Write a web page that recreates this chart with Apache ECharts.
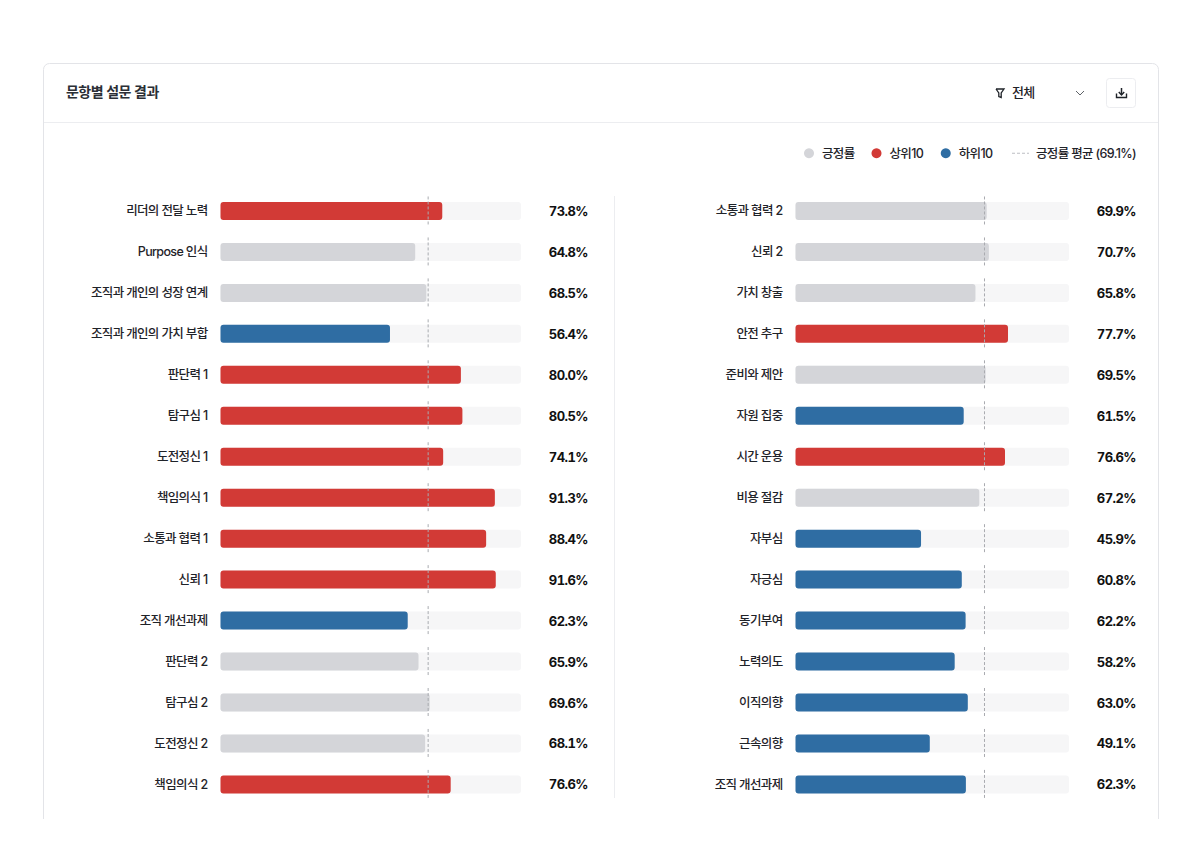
<!DOCTYPE html>
<html><head><meta charset="utf-8">
<script src="https://cdn.jsdelivr.net/npm/echarts@6/dist/echarts.min.js"></script>
<style>html,body{margin:0;background:#fff}#c{width:1200px;height:856px}#c text{letter-spacing:-.65px}#c text[style*="700"]{letter-spacing:-.55px;font-variant-numeric:tabular-nums!important;font-feature-settings:'tnum'!important}</style>
</head><body><div id="c"></div>
<script>
const namesLeft=['리더의 전달 노력','Purpose 인식','조직과 개인의 성장 연계','조직과 개인의 가치 부합','판단력 1','탐구심 1','도전정신 1','책임의식 1','소통과 협력 1','신뢰 1','조직 개선과제','판단력 2','탐구심 2','도전정신 2','책임의식 2'];
const valuesLeft=[73.8,64.8,68.5,56.4,80.0,80.5,74.1,91.3,88.4,91.6,62.3,65.9,69.6,68.1,76.6];
const groupsLeft=['t','n','n','b','t','t','t','t','t','t','b','n','n','n','t'];
const namesRight=['소통과 협력 2','신뢰 2','가치 창출','안전 추구','준비와 제안','자원 집중','시간 운용','비용 절감','자부심','자긍심','동기부여','노력의도','이직의향','근속의향','조직 개선과제'];
const valuesRight=[69.9,70.7,65.8,77.7,69.5,61.5,76.6,67.2,45.9,60.8,62.2,58.2,63.0,49.1,62.3];
const groupsRight=['n','n','n','t','n','b','t','n','b','b','b','b','b','b','b'];
const meanValue=69.1;
const legendNames={n:'긍정률',t:'상위10',b:'하위10',m:'긍정률 평균 (69.1%)'};
const colors={n:'#D4D5D9',t:'#D23A36',b:'#2F6DA3'};
const FONT="Inter, 'Noto Sans CJK KR', sans-serif";
const TEXT='#1f2329';

function panel(idx,names,values,groups){
  const yA={type:'category',gridIndex:idx,inverse:true,axisLine:{show:false},axisTick:{show:false}};
  const yAxes=[
    {...yA,data:names,position:'left',axisLabel:{interval:0,margin:13,padding:[3,0,0,0],fontFamily:FONT,fontSize:12.5,fontWeight:500,color:TEXT}},
    {...yA,data:values.map(v=>v.toFixed(1)+'%'),position:'right',axisLabel:{interval:0,margin:67,align:'right',fontFamily:FONT,fontSize:13,fontWeight:700,color:'#111'}}
  ];
  const xAxis={type:'value',gridIndex:idx,min:0,max:100,show:false};
  const yi=idx*2;
  const series=['n','t','b'].map((g,k)=>({
    type:'bar',name:legendNames[g],xAxisIndex:idx,yAxisIndex:yi,stack:'s'+idx,barWidth:18,
    showBackground:k===0,backgroundStyle:{color:'#F6F6F7',borderRadius:3},
    itemStyle:{color:colors[g],borderRadius:3},
    data:values.map((v,i)=>groups[i]===g?v:null),z:2
  }));
  series.push({
    type:'custom',name:legendNames.m,xAxisIndex:idx,yAxisIndex:yi,z:5,silent:true,
    data:names.map((_,i)=>[meanValue,i]),encode:{x:0,y:1},
    itemStyle:{color:'#A9ABB0'},
    renderItem(p,api){
      const c=api.coord([api.value(0),api.value(1)]);
      return {type:'line',shape:{x1:c[0],y1:c[1]-14.5,x2:c[0],y2:c[1]+14.5},
        style:{stroke:'#A9ABB0',lineWidth:1,lineDash:[3,2]}};
    }
  });
  return {yAxes,xAxis,series};
}
const L=panel(0,namesLeft,valuesLeft,groupsLeft), R=panel(1,namesRight,valuesRight,groupsRight);
const chart=echarts.init(document.getElementById('c'),null,{renderer:'svg',width:1200,height:856});
const legendCommon={top:147,padding:0,orient:'horizontal',textStyle:{fontFamily:FONT,fontSize:12.5,fontWeight:500,color:TEXT}};
chart.setOption({
  animation:false,backgroundColor:'#fff',
  grid:[{left:220.5,width:300.5,top:190.5,height:614.4},{left:795.5,width:273.5,top:190.5,height:614.4}],
  xAxis:[L.xAxis,R.xAxis],
  yAxis:[...L.yAxes,...R.yAxes],
  series:[...L.series,...R.series],
  legend:[
    {...legendCommon,left:804,itemGap:15,itemWidth:10,itemHeight:10,icon:'circle',
     textStyle:{...legendCommon.textStyle,padding:[0,0,0,3]},
     data:[legendNames.n,legendNames.t,legendNames.b]},
    {...legendCommon,left:1012,itemWidth:17,itemHeight:1,
     textStyle:{...legendCommon.textStyle,padding:[0,0,0,2]},
     data:[{name:legendNames.m,icon:'path://M0 0H3V1H0ZM5 0H8V1H5ZM10 0H13V1H10ZM15 0H17V1H15Z',itemStyle:{color:'#BDBFC4'}}]}
  ],
  graphic:{elements:[
    {type:'rect',silent:true,z:-10,shape:{x:43.5,y:63.5,width:1115,height:780,r:6},style:{fill:'#fff',stroke:'#E3E4E8',lineWidth:1}},
    {type:'rect',silent:true,z:-9,shape:{x:30,y:819,width:1140,height:37},style:{fill:'#fff'}},
    {type:'line',silent:true,z:-8,shape:{x1:44,y1:122.5,x2:1158,y2:122.5},style:{stroke:'#ECEDF0',lineWidth:1}},
    {type:'line',silent:true,z:-8,shape:{x1:614.5,y1:196,x2:614.5,y2:798},style:{stroke:'#ECEDF0',lineWidth:1}},
    {type:'text',left:66,top:84,style:{text:'문항별 설문 결과',font:`700 14px ${FONT}`,fill:'#2b2f36'}},
    {type:'text',left:1012,top:85,style:{text:'전체',font:`500 13px ${FONT}`,fill:TEXT}},
    {type:'polyline',silent:true,shape:{points:[[996,89],[1004,89],[1001.2,93],[1001.2,97.5],[998.8,96.5],[998.8,93],[996,89]]},style:{fill:'none',stroke:'#1f2329',lineWidth:1.3}},
    {type:'polyline',silent:true,shape:{points:[[1076,91],[1080,95],[1084,91]]},style:{fill:'none',stroke:'#5f6368',lineWidth:1}},
    {type:'rect',silent:true,shape:{x:1106.5,y:78.5,width:29,height:29,r:3},style:{fill:'#fff',stroke:'#ECEDF0',lineWidth:1}},
    {type:'polyline',silent:true,shape:{points:[[1116.5,93.5],[1116.5,97.5],[1126.5,97.5],[1126.5,93.5]]},style:{fill:'none',stroke:'#1f2329',lineWidth:1.4}},
    {type:'polyline',silent:true,shape:{points:[[1121.5,88],[1121.5,94.5]]},style:{fill:'none',stroke:'#1f2329',lineWidth:1.5}},
    {type:'polyline',silent:true,shape:{points:[[1118.8,92],[1121.5,95],[1124.2,92]]},style:{fill:'none',stroke:'#1f2329',lineWidth:1.5}}
  ]}
});
</script></body></html>
